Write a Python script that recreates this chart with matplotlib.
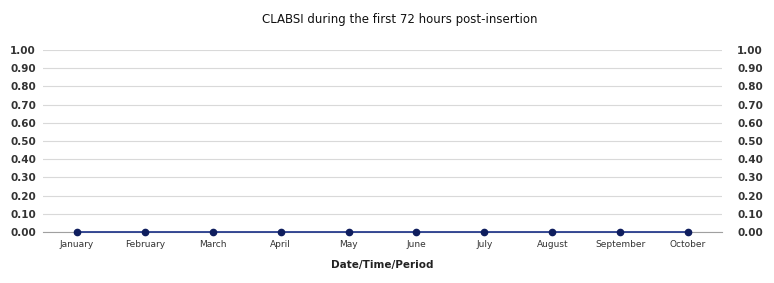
import matplotlib
matplotlib.use("Agg")
import matplotlib.pyplot as plt

months = ["January", "February", "March", "April", "May", "June",
          "July", "August", "September", "October"]
values = [0, 0, 0, 0, 0, 0, 0, 0, 0, 0]
yticks = [0.0, 0.1, 0.2, 0.3, 0.4, 0.5, 0.6, 0.7, 0.8, 0.9, 1.0]

fig = plt.figure(figsize=(7.74, 2.83), dpi=100)
ax = fig.add_axes([43/774, 1-232/283, (722-43)/774, (232-50)/283])

x = list(range(len(months)))
ax.plot(x, values, color="#2a3f8f", lw=1.3, marker="o", ms=4.5,
        mfc="#0f1e5e", mec="#0f1e5e", zorder=3, clip_on=False)

ax.set_xlim(-0.5, len(months) - 0.5)
ax.set_ylim(0, 1.0)
ax.set_yticks(yticks)
ax.set_yticklabels([f"{v:.2f}" for v in yticks])
ax.set_xticks(x)
ax.set_xticklabels(months, fontsize=6.5, color="#333333", family="DejaVu Sans")
ax.grid(axis="y", color="#d9d9d9", lw=0.8)
ax.set_axisbelow(True)
for s in ["top", "right", "left"]:
    ax.spines[s].set_visible(False)
ax.spines["bottom"].set_color("#a0a0a0")
ax.tick_params(axis="both", length=0)
ax.tick_params(axis="x", pad=6)
ax.tick_params(axis="y", labelsize=7.5, labelcolor="#333333", pad=5)
for lab in ax.get_yticklabels():
    lab.set_fontweight("bold")

ax2 = ax.twinx()
ax2.set_ylim(0, 1.0)
ax2.set_yticks(yticks)
ax2.set_yticklabels([f"{v:.2f}" for v in yticks])
ax2.tick_params(axis="y", length=0, labelsize=7.5, labelcolor="#333333", pad=11)
for lab in ax2.get_yticklabels():
    lab.set_fontweight("bold")
for s in ax2.spines.values():
    s.set_visible(False)

fig.text(400/774, 1 - 20/283,
         "CLABSI during the first 72 hours post-insertion",
         ha="center", va="center", fontsize=8.5, color="#111111",
         fontweight="medium")
ax.set_xlabel("Date/Time/Period", fontsize=7.5, fontweight="bold",
              color="#222222", labelpad=8)

fig.savefig("out.png", dpi=100)
